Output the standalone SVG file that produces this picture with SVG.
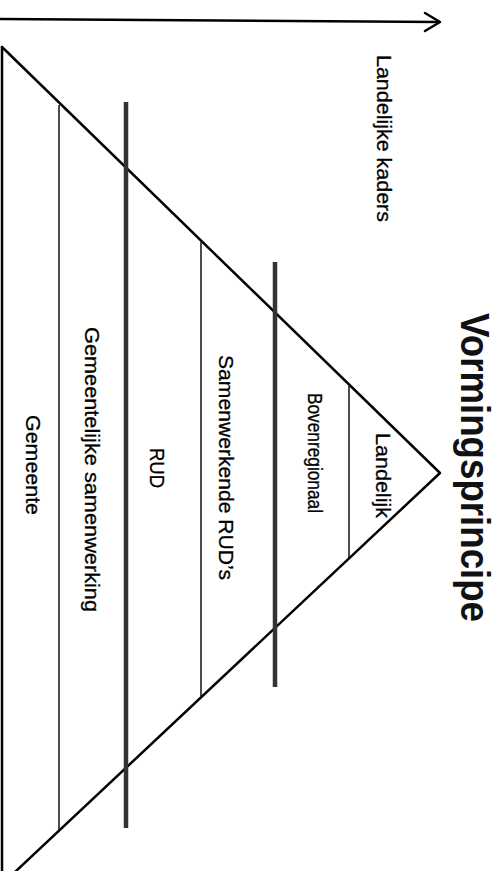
<svg xmlns="http://www.w3.org/2000/svg" width="502" height="871" viewBox="0 0 502 871">
<style>
.edge{stroke:#000;stroke-width:2.5;fill:none;stroke-linecap:round;stroke-linejoin:round}
.thin{stroke:#111;stroke-width:1.5;fill:none}
.thick{stroke:#333;stroke-width:4.5;fill:none}
.lbl{font-family:"Liberation Sans",Arial,sans-serif;font-size:20px;fill:#000;stroke:#000;stroke-width:0.3}
.title{font-family:"Liberation Sans",Arial,sans-serif;font-size:40px;font-weight:bold;fill:#111}
</style>
<rect width="502" height="871" fill="#fff"/>
<g id="connectors">
  <line class="edge" x1="0" y1="19" x2="439" y2="22"/>
  <polyline class="edge" points="425,13 440,22 425,31"/>
</g>
<g id="title"><text class="title" transform="translate(461,313) rotate(90)" textLength="309" lengthAdjust="spacingAndGlyphs">Vormingsprincipe</text></g>
<g id="axis-label"><text class="lbl" transform="translate(377,55) rotate(90)" textLength="167" lengthAdjust="spacingAndGlyphs">Landelijke kaders</text></g>
<g id="pyramid">
  <polyline class="edge" points="2,47 440,473 15,872"/>
  <line class="edge" x1="2" y1="47" x2="2" y2="871"/>
</g>
<g id="dividers">
  <line class="thin" x1="349" y1="386" x2="349" y2="558"/>
  <line class="thin" x1="201" y1="242" x2="201" y2="697"/>
  <line class="thin" x1="59" y1="105" x2="59" y2="830"/>
  <line class="thick" x1="275" y1="262" x2="275" y2="687"/>
  <line class="thick" x1="126" y1="102" x2="126" y2="828"/>
</g>
<g id="landelijk"><text class="lbl" transform="translate(376,433) rotate(90)" textLength="85" lengthAdjust="spacingAndGlyphs">Landelijk</text></g>
<g id="bovenregionaal"><text class="lbl" transform="translate(308,393) rotate(90)" textLength="120" lengthAdjust="spacingAndGlyphs">Bovenregionaal</text></g>
<g id="samenwerkende-ruds"><text class="lbl" transform="translate(219,355) rotate(90)" textLength="225" lengthAdjust="spacingAndGlyphs">Samenwerkende RUD’s</text></g>
<g id="rud"><text class="lbl" transform="translate(150,448) rotate(90)" textLength="40" lengthAdjust="spacingAndGlyphs">RUD</text></g>
<g id="gemeentelijke-samenwerking"><text class="lbl" transform="translate(85,327) rotate(90)" textLength="285" lengthAdjust="spacingAndGlyphs">Gemeentelijke samenwerking</text></g>
<g id="gemeente"><text class="lbl" transform="translate(26,415) rotate(90)" textLength="100" lengthAdjust="spacingAndGlyphs">Gemeente</text></g>
</svg>
